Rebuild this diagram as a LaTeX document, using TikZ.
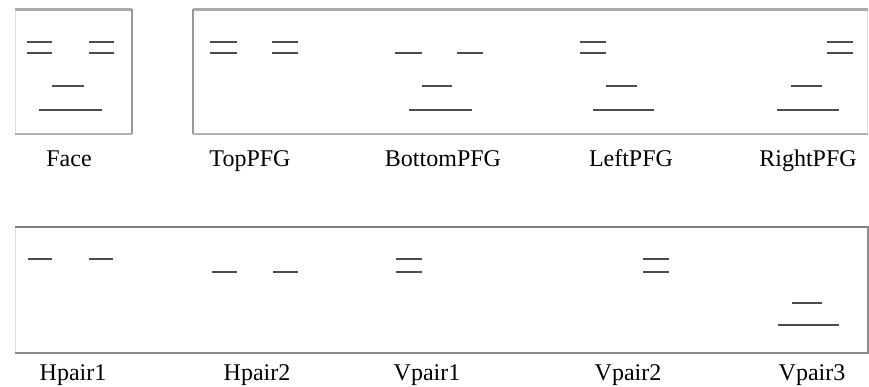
\documentclass[tikz,border=0pt]{standalone}
\usepackage{fontspec}
\setmainfont{Liberation Serif}
\begin{document}
\begin{tikzpicture}[x=1pt,y=-1pt,
  feat/.style={draw=black!70,line width=1.8pt},
  lbl/.style={font=\fontsize{24}{26}\selectfont,inner sep=0pt,anchor=base},
  topedge/.style={draw=black!33,line width=3pt},
  sideedge/.style={draw=black!40,line width=1.6pt},
  faintedge/.style={draw=black!12,line width=1pt},
  lowedge/.style={draw=black!30,line width=1.6pt}]
\useasboundingbox (0,0) rectangle (869,386);
% Face box
\draw[faintedge] (15,9) -- (15,134);
\draw[topedge] (15,9) -- (132,9);
\draw[sideedge] (132,9) -- (132,134);
\draw[lowedge] (15,134) -- (132,134);
% big top box
\draw[faintedge] (867,9) -- (867,134);
\draw[topedge] (193,9) -- (868,9);
\draw[sideedge] (193,9) -- (193,134);
\draw[lowedge] (193,134) -- (868,134);
% bottom box
\draw[faintedge] (15,227) -- (15,353);
\draw[draw=black!50,line width=1.8pt] (15,227) -- (869,227);
\draw[draw=black!45,line width=1.2pt] (868,227) -- (868,353);
\draw[draw=black!45,line width=1.8pt] (15,353) -- (869,353);
% Face
\draw[feat] (27,42) -- (52,42); \draw[feat] (27,53) -- (52,53);
\draw[feat] (89,42) -- (114,42); \draw[feat] (89,53) -- (114,53);
\draw[feat] (52,86) -- (84,86);
\draw[feat] (39,110) -- (102,110);
% TopPFG
\draw[feat] (210,42) -- (237,42); \draw[feat] (210,53) -- (237,53);
\draw[feat] (272,42) -- (298,42); \draw[feat] (272,53) -- (298,53);
% BottomPFG
\draw[feat] (395,53) -- (422,53); \draw[feat] (457,53) -- (483,53);
\draw[feat] (422,86) -- (452,86);
\draw[feat] (409,110) -- (472,110);
% LeftPFG
\draw[feat] (580,42) -- (606,42); \draw[feat] (580,53) -- (606,53);
\draw[feat] (606,86) -- (637,86);
\draw[feat] (593,110) -- (654,110);
% RightPFG
\draw[feat] (827,42) -- (853,42); \draw[feat] (827,53) -- (853,53);
\draw[feat] (791,86) -- (822,86);
\draw[feat] (777,110) -- (839,110);
% Hpair1
\draw[feat] (28,259) -- (52,259); \draw[feat] (89,259) -- (113,259);
% Hpair2
\draw[feat] (212,272) -- (237,272); \draw[feat] (273,272) -- (298,272);
% Vpair1
\draw[feat] (396,259) -- (422,259); \draw[feat] (396,272) -- (422,272);
% Vpair2
\draw[feat] (643,259) -- (669,259); \draw[feat] (643,272) -- (669,272);
% Vpair3
\draw[feat] (792,303) -- (822,303);
\draw[feat] (778,325) -- (839,325);
% labels
\node[lbl] (lface) at (69,166) {Face};
\node[lbl] (ltop) at (250,166) {TopPFG};
\node[lbl] (lbot) at (443,166) {BottomPFG};
\node[lbl] (lleft) at (631,166) {LeftPFG};
\node[lbl] (lright) at (808,166) {RightPFG};
\node[lbl] (lh1) at (73,380) {Hpair1};
\node[lbl] (lh2) at (257,380) {Hpair2};
\node[lbl] (lv1) at (427,380) {Vpair1};
\node[lbl] (lv2) at (628,380) {Vpair2};
\node[lbl] (lv3) at (812,380) {Vpair3};
\end{tikzpicture}
\end{document}
